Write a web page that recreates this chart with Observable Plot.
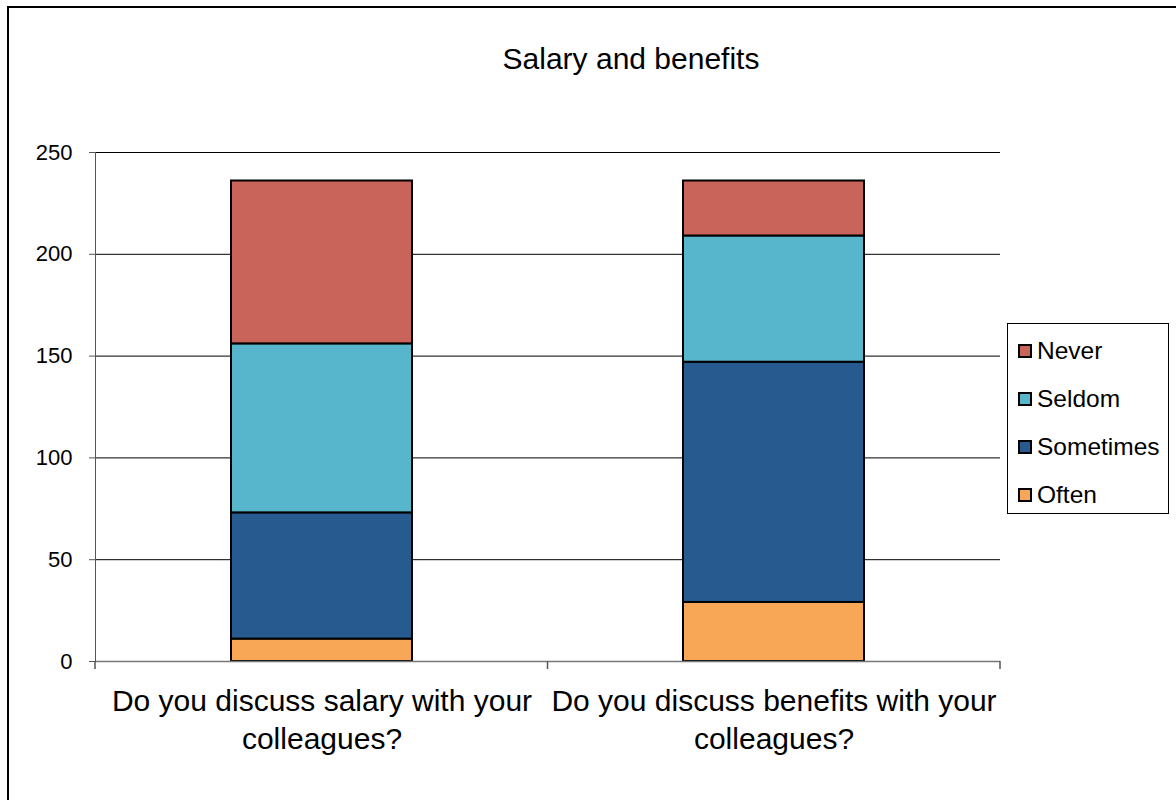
<!DOCTYPE html>
<html>
<head>
<meta charset="utf-8">
<script src="https://cdn.jsdelivr.net/npm/d3@7"></script>
<script src="https://cdn.jsdelivr.net/npm/@observablehq/plot@0.6"></script>
<style>
  html, body { margin: 0; padding: 0; background: #fff; width: 1176px; height: 800px; overflow: hidden; }
  #wrap { position: relative; width: 1176px; height: 800px; font-family: "Liberation Sans", Arial, sans-serif; color: #000; }
  #frame { position: absolute; left: 7px; top: 6px; width: 1200px; height: 820px; border-left: 2px solid #000; border-top: 2px solid #000; }
  #title { position: absolute; left: 0; width: 1262px; top: 42px; text-align: center; font-size: 30px; }
  #legend { position: absolute; left: 1007px; top: 323px; width: 162px; height: 191px; border: 1px solid #000; box-sizing: border-box; background: #fff; }
  .item { position: absolute; left: 10px; font-size: 24.5px; line-height: 24px; display: flex; align-items: center; }
  .sw { width: 10px; height: 10px; border: 2px solid #000; margin-right: 5px; }
  #chart { position: absolute; left: 0; top: 0; }
</style>
</head>
<body>
<div id="wrap">
  <div id="frame"></div>
  <div id="chart"></div>
  <div id="title">Salary and benefits</div>
  <div id="legend"></div>
</div>
<script>
const categories = ["Do you discuss salary with your colleagues?", "Do you discuss benefits with your colleagues?"];
const series = ["Often", "Sometimes", "Seldom", "Never"];
const often = [11, 29];
const sometimes = [62, 118];
const seldom = [83, 62];
const never = [80, 27];
const colors = ["#F7A755", "#275A8E", "#58B6CC", "#C9645A"];
const yTicks = [0, 50, 100, 150, 200, 250];
const legendOrder = ["Never", "Seldom", "Sometimes", "Often"];

const seriesValues = {Often: often, Sometimes: sometimes, Seldom: seldom, Never: never};
const rows = [];
categories.forEach((c, i) => {
  series.forEach(s => rows.push({category: c, series: s, value: seriesValues[s][i]}));
});

const plot = Plot.plot({
  width: 1176,
  height: 800,
  marginLeft: 95,
  marginRight: 176,
  marginTop: 152,
  marginBottom: 139,
  style: {fontFamily: "Liberation Sans, Arial, sans-serif", color: "#000", background: "transparent"},
  x: {domain: categories, paddingInner: 0.6, paddingOuter: 0.3, label: null},
  y: {domain: [0, 250], label: null},
  color: {domain: series, range: colors},
  marks: [
    Plot.ruleY(yTicks, {stroke: "#000", strokeWidth: 1}),
    Plot.barY(rows, {x: "category", y: "value", fill: "series", stroke: "#000", strokeWidth: 2, order: series}),
    Plot.ruleY([0], {stroke: "#777", strokeWidth: 1.5}),
    Plot.frame({anchor: "left", stroke: "#555"}),
    Plot.axisY({ticks: yTicks, tickSize: 6, tickPadding: 17, fontSize: 22, stroke: "#555", label: null}),
    Plot.axisX({tickSize: 0, tickPadding: 22, fontSize: 30, lineHeight: 1.27, label: null,
      tickFormat: d => d.replace(" colleagues?", "\ncolleagues?")})
  ]
});
document.getElementById("chart").appendChild(plot);

// category boundary ticks on the x axis, from the plot's own scales
const xs = plot.scale("x"), ys = plot.scale("y");
const centers = categories.map(c => xs.apply(c) + xs.bandwidth / 2);
const bounds = [xs.range[0]];
for (let i = 1; i < centers.length; i++) bounds.push((centers[i - 1] + centers[i]) / 2);
bounds.push(xs.range[1]);
const y0 = ys.apply(0);
d3.select(plot).append("g").selectAll("line").data(bounds).join("line")
  .attr("x1", d => d).attr("x2", d => d)
  .attr("y1", y0).attr("y2", y0 + 8)
  .attr("stroke", "#555").attr("stroke-width", 1.5);

// legend
const legend = document.getElementById("legend");
legendOrder.forEach((s, i) => {
  const it = document.createElement("div");
  it.className = "item";
  it.style.top = (15 + i * 48) + "px";
  const sw = document.createElement("span");
  sw.className = "sw";
  sw.style.background = colors[series.indexOf(s)];
  it.appendChild(sw);
  it.appendChild(document.createTextNode(s));
  legend.appendChild(it);
});
</script>
</body>
</html>
